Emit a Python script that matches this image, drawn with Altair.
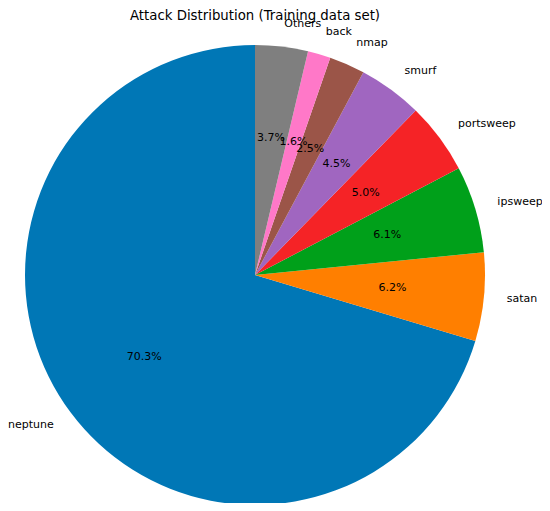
import altair as alt
import pandas as pd

title_text = "Attack Distribution (Training data set)"
labels = ["neptune", "satan", "ipsweep", "portsweep", "smurf", "nmap", "back", "Others"]
percents = [70.3, 6.2, 6.1, 5.0, 4.5, 2.5, 1.6, 3.7]
colors = ["#0077b6", "#ff7f00", "#00a01a", "#f52326", "#a066c0", "#9b5548", "#ff78c8", "#7f7f7f"]

df = pd.DataFrame({"label": labels, "pct": percents, "idx": list(range(len(labels)))})

PADL = 0
CX, CY, R = 255 - 8 - PADL, 267, 230
FONT = "DejaVu Sans"

base = alt.Chart(df).transform_window(
    cum="sum(pct)", sort=[alt.SortField("idx", order="descending")], frame=[None, 0]
).transform_joinaggregate(total="sum(pct)").transform_calculate(
    frac="(datum.cum - datum.pct / 2) / datum.total",
    ptxt="format(datum.pct, '.1f') + '%'",
    rtxt="(datum.frac <= 0.5) ? datum.label : ''",
    ltxt="(datum.frac > 0.5) ? datum.label : ''",
).encode(
    theta=alt.Theta("pct:Q", stack=True),
    order=alt.Order("idx:Q", sort="descending"),
    x=alt.value(CX),
    y=alt.value(CY),
)

pie = base.mark_arc(radius=R).encode(
    color=alt.Color("label:N", scale=alt.Scale(domain=labels, range=colors), legend=None)
)

pct_text = base.mark_text(radius=R * 0.6, font=FONT, fontSize=11, color="black").encode(
    text="ptxt:N"
)
right_text = base.mark_text(radius=R * 1.1, font=FONT, fontSize=11, color="black",
                            align="left", baseline="middle").encode(text="rtxt:N")
left_text = base.mark_text(radius=R * 1.1 - 2, font=FONT, fontSize=11, color="black",
                           align="right", baseline="middle").encode(text="ltxt:N")

title = alt.Chart(pd.DataFrame({"t": [title_text]})).mark_text(
    font=FONT, fontSize=13.3, color="black", align="center", baseline="alphabetic"
).encode(text="t:N", x=alt.value(CX), y=alt.value(12))

chart = alt.layer(pie, pct_text, right_text, left_text, title).properties(
    width=550 - 16 - PADL,
    height=495,
    autosize=alt.AutoSizeParams(type="none"),
    padding={"left": PADL, "top": 0, "right": 0, "bottom": 0},
).configure_view(stroke=None)

chart.save("out.html", embed_options={"renderer": "svg", "actions": False})
